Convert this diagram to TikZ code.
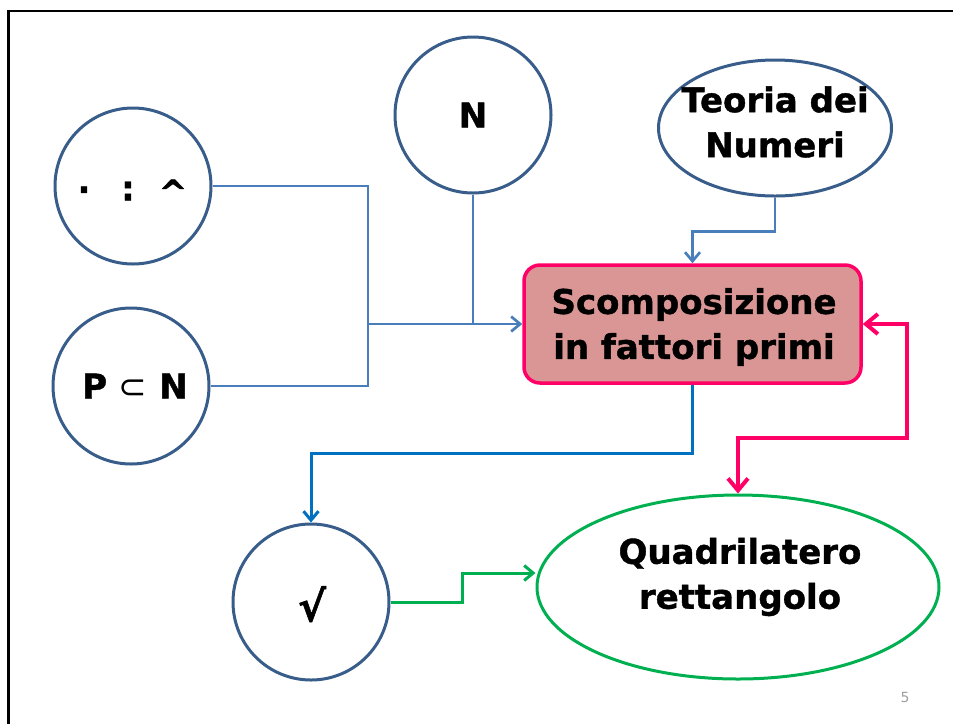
\documentclass[tikz,border=0pt]{standalone}
\usepackage{fontspec}
\setmainfont{DejaVu Sans}[BoldFeatures={FakeBold=1.2}]
\usetikzlibrary{shapes.geometric,arrows.meta}
\definecolor{circblue}{HTML}{385D8A}
\definecolor{lineblue}{HTML}{4A7EBB}
\definecolor{darkblue}{HTML}{0070C0}
\definecolor{hotpink}{HTML}{FF0066}
\definecolor{boxfill}{HTML}{D99694}
\definecolor{grn}{HTML}{00B050}
\tikzset{
  circ/.style={circle,draw=circblue,line width=3pt,minimum size=156pt,inner sep=0pt,font=\fontsize{34}{44}\selectfont\bfseries,align=center},
  ovl/.style={ellipse,draw=circblue,line width=3pt,inner sep=0pt},
  bigtext/.style={font=\fontsize{34}{45}\selectfont\bfseries,align=center,inner sep=0pt},
  boxnode/.style={rectangle,rounded corners=16pt,draw=hotpink,fill=boxfill,line width=3.5pt,minimum width=337pt,minimum height=118pt,inner sep=0pt},
  barb/.style={-{Straight Barb[length=9pt,width=15pt]}},
  pinkbarb/.style={{Straight Barb[length=12pt,width=20pt]}-{Straight Barb[length=12pt,width=20pt]}},
}
\begin{document}
\begin{tikzpicture}[x=1pt,y=-1pt]
\useasboundingbox (0,0) rectangle (953,724);
\draw[line width=2.2pt] (8.5,724) -- (8.5,11) -- (953,11);
% nodes
\node[circ] (c1) at (133,186) {};
\node[bigtext] (t1a) at (84,194) {·};
\node[bigtext] (t1b) at (128,191) {:};
\node[bigtext] (t1c) at (173,192) {\^{}};
\node[circ] (c2) at (131,386) {};
\node[bigtext] (t2) at (135,386) {P {\mdseries⊂} N};
\node[circ] (n) at (473,115) {N};
\node[ovl,minimum width=233pt,minimum height=136pt] (teo) at (775,128) {};
\node[bigtext] (teot) at (775,122) {Teoria dei\\Numeri};
\node[boxnode] (box) at (692.5,324) {};
\node[bigtext] (boxt) at (694,327) {Scomposizione\\in fattori primi};
\node[circ] (root) at (311,602) {};
\node[bigtext,font=\fontsize{42}{44}\selectfont\bfseries] (roott) at (312,604) {√};
\node[ovl,draw=grn,minimum width=402pt,minimum height=184pt] (quad) at (738,587) {};
\node[bigtext] (quadt) at (740,577) {Quadrilatero\\rettangolo};
\node[text=gray!75,font=\fontsize{14}{16}\selectfont] (pg) at (905,697) {5};
% connectors
\coordinate (j1) at (368,324);
\coordinate (p1) at (907,438);
\coordinate (g1) at (462,573);
\draw[line width=2.7pt,lineblue] (c1.east) -| (j1);
\draw[line width=2.7pt,lineblue] (c2.east) -| (j1);
\draw[line width=2.7pt,lineblue] (n.south) -- (n.south |- box.west);
\draw[line width=2.7pt,lineblue,barb] (j1) -- (box.west);
\draw[line width=2.7pt,lineblue,barb] (teo.south) -- ++(0,34) -| (box.north);
\draw[line width=3pt,darkblue,barb] (box.south) -- ++(0,69) -| (root.north);
\draw[line width=4pt,hotpink,pinkbarb] (box.east) -| (p1) -| (quad.north);
\draw[line width=3pt,grn,barb] (root.east) -| (g1) -- (g1 -| quad.west);
\end{tikzpicture}
\end{document}
